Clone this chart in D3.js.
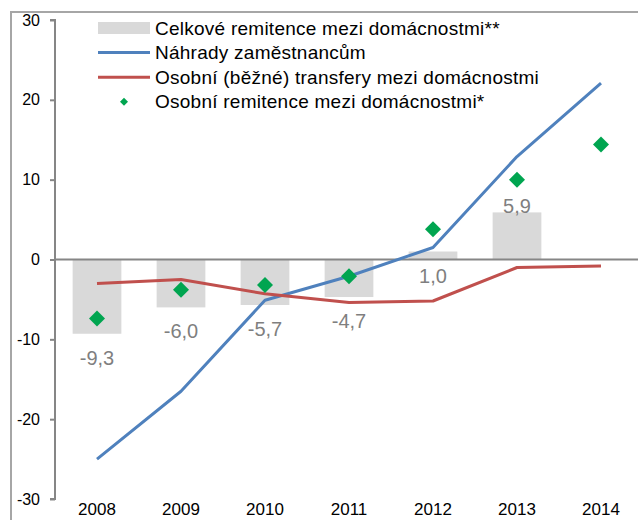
<!DOCTYPE html>
<html>
<head>
<meta charset="utf-8">
<script src="https://cdn.jsdelivr.net/npm/d3@7"></script>
<style>
  html, body { margin: 0; padding: 0; background: #fff; }
  svg { display: block; font-family: "Liberation Sans", Arial, sans-serif; }
</style>
</head>
<body>
<svg id="chart" width="638" height="520"></svg>
<script>
// Years on the category axis
const years = ["2008", "2009", "2010", "2011", "2012", "2013", "2014"];
// Celkové remitence mezi domácnostmi** (bars; no value for 2014)
const totalRemittances = [-9.3, -6.0, -5.7, -4.7, 1.0, 5.9, null];
// Náhrady zaměstnancům (blue line)
const compensation = [-25.0, -16.5, -5.1, -2.1, 1.5, 12.9, 22.1];
// Osobní (běžné) transfery mezi domácnostmi (red line)
const personalTransfers = [-3.0, -2.5, -4.3, -5.4, -5.2, -1.0, -0.8];
// Osobní remitence mezi domácnostmi* (green diamonds)
const personalRemittances = [-7.4, -3.8, -3.2, -2.1, 3.8, 10.0, 14.4];
// Value-axis ticks
const yTicks = [-30, -20, -10, 0, 10, 20, 30];

const legendLabels = [
  "Celkové remitence mezi domácnostmi**",
  "Náhrady zaměstnancům",
  "Osobní (běžné) transfery mezi domácnostmi",
  "Osobní remitence mezi domácnostmi*"
];

const colors = {
  bar: "#d9d9d9",
  blue: "#4f81bd",
  red: "#c0504d",
  green: "#00a550",
  axis: "#868686",
  label: "#7f7f7f"
};

const svg = d3.select("#chart");

// outer chart frame
svg.append("rect")
  .attr("x", 11).attr("y", 12)
  .attr("width", 700).attr("height", 600)
  .attr("fill", "none")
  .attr("stroke", "#a6a6a6")
  .attr("stroke-width", 2);

const plot = { left: 55, right: 643, top: 20, bottom: 499 };

const x = d3.scaleBand()
  .domain(years)
  .range([plot.left, plot.right])
  .paddingInner(0.42)
  .paddingOuter(0.21);

const y = d3.scaleLinear()
  .domain([-30, 30])
  .range([plot.bottom, plot.top]);

const cx = d => x(d) + x.bandwidth() / 2;

// plain hyphen for negatives, decimal comma
const intFmt = v => String(v);
const fmt = v => v.toFixed(1).replace(".", ",");

// bars
const barData = years.map((yr, i) => ({ yr, v: totalRemittances[i] })).filter(d => d.v !== null);
svg.append("g").selectAll("rect")
  .data(barData)
  .join("rect")
  .attr("x", d => x(d.yr))
  .attr("width", x.bandwidth())
  .attr("y", d => y(Math.max(0, d.v)))
  .attr("height", d => Math.abs(y(d.v) - y(0)))
  .attr("fill", colors.bar);

// value axis
const yAxis = d3.axisLeft(y)
  .tickValues(yTicks)
  .tickSize(5)
  .tickFormat(intFmt);
const gy = svg.append("g")
  .attr("transform", `translate(${plot.left},0)`)
  .call(yAxis);
gy.select(".domain").attr("stroke", colors.axis).attr("stroke-width", 2)
  .attr("d", `M-5,${y(30)}H0V${y(-30)}H-5`);
gy.selectAll(".tick line").attr("stroke", colors.axis).attr("stroke-width", 2);
gy.selectAll(".tick text")
  .attr("x", -15)
  .attr("fill", "#000")
  .style("font-size", "16px")
  .style("font-family", "'Liberation Sans', Arial, sans-serif");

// zero line
svg.append("line")
  .attr("x1", plot.left).attr("x2", 638)
  .attr("y1", y(0)).attr("y2", y(0))
  .attr("stroke", colors.axis).attr("stroke-width", 2);

// category labels
svg.append("g").selectAll("text")
  .data(years)
  .join("text")
  .attr("x", d => cx(d))
  .attr("y", 515)
  .attr("text-anchor", "middle")
  .style("font-size", "17px")
  .attr("fill", "#000")
  .text(d => d);

// lines
const lineGen = d3.line()
  .x(d => cx(d.yr))
  .y(d => y(d.v));

[[compensation, colors.blue], [personalTransfers, colors.red]].forEach(([vals, col]) => {
  svg.append("path")
    .datum(years.map((yr, i) => ({ yr, v: vals[i] })))
    .attr("d", lineGen)
    .attr("fill", "none")
    .attr("stroke", col)
    .attr("stroke-width", 3)
    .attr("stroke-linejoin", "round");
});

// diamonds
const diamond = d3.symbol().type(d3.symbolSquare).size(128);
svg.append("g").selectAll("path")
  .data(years.map((yr, i) => ({ yr, v: personalRemittances[i] })))
  .join("path")
  .attr("d", diamond)
  .attr("transform", d => `translate(${cx(d.yr)},${y(d.v)}) rotate(45)`)
  .attr("fill", colors.green);

// bar value labels
svg.append("g").selectAll("text")
  .data(barData)
  .join("text")
  .attr("x", d => cx(d.yr))
  .attr("y", d => d.v < 0 ? y(d.v) + 31 : (d.v < 2 ? y(0) + 23 : y(d.v) + 1))
  .attr("text-anchor", "middle")
  .style("font-size", "20px")
  .attr("fill", colors.label)
  .text(d => fmt(d.v));

// legend
const lg = svg.append("g").attr("transform", "translate(98,28)");
const rowH = 24.6;
lg.append("rect").attr("x", -4).attr("y", -14).attr("width", 460).attr("height", 4 * rowH + 4)
  .attr("fill", "#fff");
legendLabels.forEach((lbl, i) => {
  const row = lg.append("g").attr("transform", `translate(0,${i * rowH})`);
  if (i === 0) {
    row.append("rect").attr("x", 0).attr("y", -6).attr("width", 52).attr("height", 12).attr("fill", colors.bar);
  } else if (i === 1 || i === 2) {
    row.append("line").attr("x1", 0).attr("x2", 52).attr("y1", 0).attr("y2", 0)
      .attr("stroke", i === 1 ? colors.blue : colors.red).attr("stroke-width", 3);
  } else {
    row.append("path").attr("d", d3.symbol().type(d3.symbolSquare).size(32))
      .attr("transform", "translate(26,0) rotate(45)").attr("fill", colors.green);
  }
  row.append("text")
    .attr("x", 57).attr("y", 0).attr("dy", "0.35em")
    .style("font-size", "19px")
    .style("letter-spacing", "0.25px")
    .attr("fill", "#000")
    .text(lbl);
});
</script>
</body>
</html>
